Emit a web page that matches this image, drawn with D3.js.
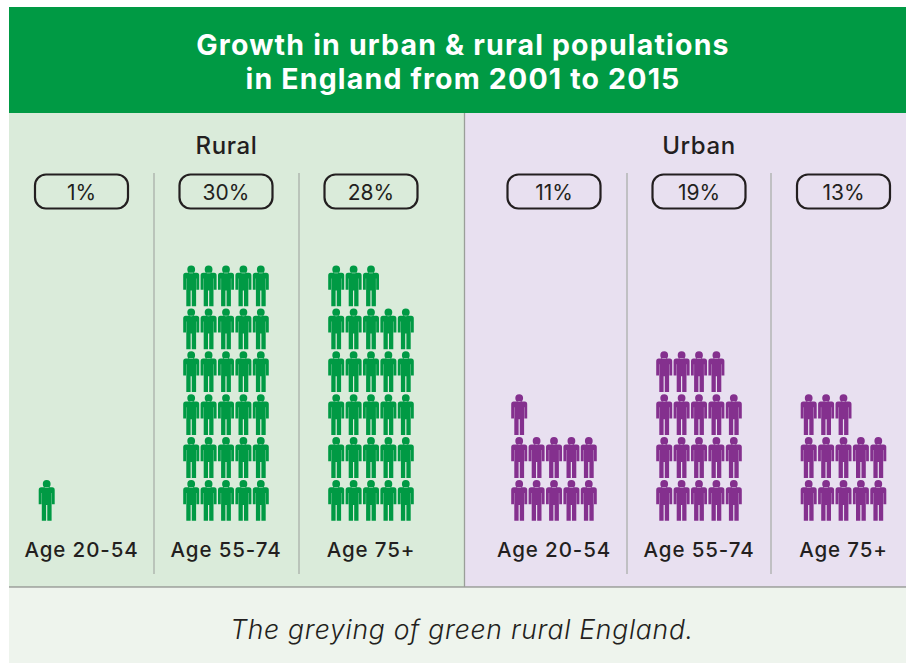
<!DOCTYPE html>
<html>
<head>
<meta charset="utf-8">
<script src="https://cdn.jsdelivr.net/npm/d3@7"></script>
<style>
  html, body { margin: 0; padding: 0; background: #fff; }
  text { font-family: Inter, "Open Sans", sans-serif; fill: #231f20; text-anchor: middle; }
</style>
</head>
<body>
<svg id="chart" width="906" height="663"></svg>
<script>
const titleLines = ["Growth in urban & rural populations", "in England from 2001 to 2015"];
const caption = "The greying of green rural England.";
const areas = ["Rural", "Urban"];
const ageLabels = ["Age 20-54", "Age 55-74", "Age 75+"];
const ruralGrowth = [1, 30, 28];
const urbanGrowth = [11, 19, 13];

const svg = d3.select("#chart");
const areaColor = { Rural: "#009a44", Urban: "#84308e" };
const panelColor = { Rural: "#daebda", Urban: "#e8e0f0" };
const panelX = { Rural: [9, 464.5], Urban: [464.5, 906] };

// one entry per column
const columns = areas.flatMap(area =>
  ageLabels.map((age, i) => ({
    area, age,
    key: area + age,
    value: area === "Rural" ? ruralGrowth[i] : urbanGrowth[i]
  }))
);

// column centres - the gap between Rural and Urban is a bit wider than the others
const centers = d3.scaleOrdinal()
  .domain(columns.map(d => d.key))
  .range([81.5, 226, 371, 554, 699, 843.5]);
const perRow = 5;
const xOffset = d3.scaleLinear().domain([0, perRow - 1]).range([-34.8, 34.8]);
const yRow = d3.scaleLinear().domain([0, 5]).range([480, 265.5]);

// header and panels
svg.append("rect").attr("x", 9).attr("y", 7).attr("width", 897).attr("height", 106).attr("fill", "#009a44");
titleLines.forEach((t, i) => {
  svg.append("text").attr("x", 463).attr("y", 55 + i * 34)
    .attr("font-size", 28.5).attr("font-weight", 700).attr("letter-spacing", 1.18)
    .style("fill", "#fff").text(t);
});

areas.forEach(area => {
  svg.append("rect")
    .attr("x", panelX[area][0]).attr("y", 113)
    .attr("width", panelX[area][1] - panelX[area][0]).attr("height", 474)
    .attr("fill", panelColor[area]);
});
svg.append("rect").attr("x", 9).attr("y", 588).attr("width", 897).attr("height", 75).attr("fill", "#eef4ed");
svg.append("line").attr("x1", 9).attr("x2", 906).attr("y1", 587).attr("y2", 587)
  .attr("stroke", "#9a9e99").attr("stroke-width", 1.3);
svg.append("line").attr("x1", 464.5).attr("x2", 464.5).attr("y1", 113).attr("y2", 587)
  .attr("stroke", "#9a9e99").attr("stroke-width", 1.3);

[154, 299, 627, 771].forEach(x => {
  svg.append("line").attr("x1", x).attr("x2", x).attr("y1", 173).attr("y2", 574)
    .attr("stroke", "#a5aaa5").attr("stroke-width", 1.2);
});

areas.forEach((area, i) => {
  svg.append("text").attr("x", i === 0 ? 226.5 : 699).attr("y", 154)
    .attr("font-size", 24).attr("font-weight", 500).attr("letter-spacing", 0.6).text(area);
});

// little person, origin at top centre of the head
const person = "M-3.9,3.9a3.9,3.9 0 1,0 7.8,0a3.9,3.9 0 1,0 -7.8,0Z" +
  "M-5.5,7.3 L5.5,7.3 Q8,7.3 8,10 L8,24.2 L5.2,24.2 L5.2,13 L4.9,13 L4.9,40.8 L0.6,40.8 L0.6,25 L-0.6,25 L-0.6,40.8 L-4.9,40.8 L-4.9,13 L-5.2,13 L-5.2,24.2 L-8,24.2 L-8,10 Q-8,7.3 -5.5,7.3Z";

const col = svg.selectAll("g.col").data(columns).join("g")
  .attr("class", "col")
  .attr("transform", d => `translate(${centers(d.key)},0)`);

col.append("rect")
  .attr("x", -46.5).attr("y", 174.5).attr("width", 93).attr("height", 34).attr("rx", 11)
  .attr("fill", "none").attr("stroke", "#231f20").attr("stroke-width", 2.2);

col.append("text").attr("y", 199.5).attr("font-size", 21).attr("font-weight", 400)
  .text(d => d.value + "%");

col.append("text").attr("y", 557).attr("font-size", 20.5).attr("font-weight", 500).attr("letter-spacing", 0.9)
  .text(d => d.age);

col.selectAll("path.person")
  .data(d => d3.range(d.value).map(i => ({ i, area: d.area })))
  .join("path")
  .attr("class", "person")
  .attr("d", person)
  .attr("fill", d => areaColor[d.area])
  .attr("transform", d => `translate(${xOffset(d.i % perRow)},${yRow(Math.floor(d.i / perRow))})`);

svg.append("text").attr("x", 462).attr("y", 639)
  .attr("font-size", 26.5).attr("font-style", "italic").attr("font-weight", 300).attr("letter-spacing", 0.75)
  .text(caption);
</script>
</body>
</html>
